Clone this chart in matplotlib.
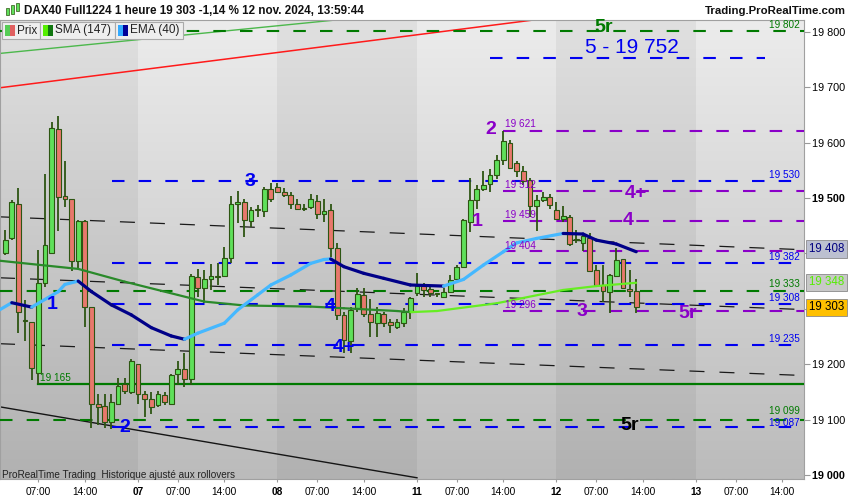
import numpy as np
import matplotlib
matplotlib.use('Agg')
import matplotlib.pyplot as plt
import matplotlib.transforms as mtransforms
from matplotlib.collections import LineCollection
from matplotlib.colors import LinearSegmentedColormap
from matplotlib.patches import Rectangle

plt.rcParams['font.family'] = ['Liberation Sans', 'DejaVu Sans']

# Bougies horaires DAX40 (barre 1 = 6 nov. 02:00 ... barre 96 = 12 nov. 13:00)
opens = [19400, 19427, 19490, 19280, 19276, 19185, 19347, 19400, 19624, 19504,
         19498, 19387, 19459, 19303, 19129, 19125, 19095, 19129, 19164, 19150,
         19200, 19146, 19138, 19126, 19144, 19129, 19182, 19192, 19174, 19358,
         19337, 19353, 19358, 19360, 19392, 19490, 19492, 19459, 19478, 19476,
         19517, 19519, 19511, 19505, 19489, 19482, 19483, 19495, 19471, 19478,
         19409, 19289, 19241, 19301, 19325, 19291, 19274, 19291, 19276, 19268,
         19274, 19295, 19328, 19341, 19335, 19327, 19322, 19331, 19353, 19376,
         19457, 19496, 19517, 19525, 19542, 19569, 19600, 19564, 19549, 19532,
         19486, 19496, 19501, 19478, 19462, 19466, 19425, 19418, 19427, 19370,
         19343, 19331, 19359, 19389, 19335, 19333]
highs = [19442, 19497, 19518, 19316, 19277, 19406, 19543, 19638, 19648, 19566,
         19499, 19460, 19461, 19304, 19147, 19147, 19147, 19176, 19175, 19209,
         19201, 19152, 19149, 19152, 19149, 19182, 19205, 19221, 19362, 19371,
         19370, 19380, 19382, 19411, 19504, 19513, 19498, 19484, 19487, 19520,
         19527, 19527, 19518, 19511, 19498, 19490, 19507, 19505, 19498, 19490,
         19418, 19295, 19304, 19337, 19337, 19317, 19304, 19295, 19281, 19281,
         19301, 19321, 19364, 19347, 19343, 19329, 19337, 19361, 19379, 19463,
         19537, 19524, 19548, 19552, 19578, 19621, 19604, 19566, 19557, 19537,
         19505, 19511, 19508, 19492, 19486, 19469, 19442, 19436, 19436, 19379,
         19379, 19362, 19409, 19390, 19370, 19353]
lows = [19398, 19425, 19256, 19241, 19172, 19165, 19340, 19399, 19441, 19483,
        19369, 19371, 19268, 19084, 19090, 19085, 19083, 19126, 19147, 19147,
        19129, 19105, 19110, 19123, 19126, 19128, 19162, 19158, 19162, 19322,
        19310, 19334, 19343, 19359, 19383, 19454, 19430, 19448, 19466, 19466,
        19493, 19510, 19501, 19481, 19478, 19477, 19481, 19463, 19457, 19394,
        19280, 19220, 19220, 19295, 19286, 19250, 19250, 19267, 19257, 19263,
        19268, 19281, 19323, 19321, 19321, 19321, 19321, 19329, 19352, 19375,
        19439, 19480, 19513, 19511, 19534, 19560, 19552, 19538, 19523, 19466,
        19441, 19493, 19480, 19460, 19457, 19413, 19419, 19405, 19367, 19340,
        19313, 19293, 19358, 19336, 19322, 19292]
closes = [19424, 19493, 19295, 19278, 19193, 19346, 19416, 19626, 19501, 19498,
          19387, 19459, 19303, 19129, 19122, 19096, 19131, 19161, 19152, 19205,
          19146, 19138, 19123, 19147, 19132, 19180, 19191, 19174, 19360, 19337,
          19353, 19359, 19360, 19391, 19490, 19492, 19460, 19478, 19480, 19516,
          19499, 19511, 19505, 19489, 19480, 19481, 19498, 19471, 19477, 19409,
          19289, 19244, 19298, 19326, 19291, 19277, 19292, 19275, 19270, 19276,
          19295, 19319, 19341, 19334, 19328, 19327, 19331, 19352, 19376, 19460,
          19496, 19516, 19524, 19542, 19569, 19602, 19554, 19549, 19530, 19486,
          19496, 19501, 19487, 19462, 19468, 19417, 19424, 19431, 19369, 19343,
          19333, 19361, 19388, 19337, 19333, 19303]

# Moyennes mobiles
sma_x = [0, 12, 19, 27, 31, 37, 47, 52, 60, 62, 66, 75, 85, 90, 96]
sma_y = [19387, 19372, 19349, 19325, 19313, 19306, 19304, 19301, 19296, 19294,
         19296, 19310, 19334, 19341, 19347]
ema_x = [0, 2, 5, 9, 10, 12, 14, 17, 20, 23, 26, 28, 30, 34, 36, 39, 41, 44, 47,
         49, 50, 52, 55, 58, 62, 67, 70, 73, 76, 78, 81, 85, 88, 90, 93, 96]
ema_y = [19297, 19311, 19303, 19331, 19344, 19350, 19331, 19307, 19289, 19266,
         19251, 19245, 19256, 19274, 19298, 19325, 19343, 19361, 19382, 19389,
         19390, 19376, 19364, 19355, 19343, 19341, 19353, 19379, 19403, 19419,
         19427, 19436, 19435, 19424, 19417, 19403]

# Niveaux
blue_levels = [19530, 19382, 19308, 19235, 19087]
blue_target = 19752
green_levels = [19802, 19333, 19099]
purple_levels = [19621, 19512, 19459, 19404, 19296]
support_level = 19165

# Droites tracées
chan_x = [0.23, 120.35]
chan_upper = [19466, 19407]
chan_mid = [19356, 19299]
chan_low = [19237, 19180]
sup_x = [0.23, 63]
sup_y = [19123, 18995]
red_x = [0.23, 82.3]
red_y = [19699, 19824]
lg_x = [0.23, 50.5]
lg_y = [19761, 19821]

day_labels = ['07', '08', '11', '12', '13']
last_price, last_sma, last_ema = 19303, 19348, 19408

# ---------------------------------------------------------------
BARS_PER_DAY = 21
xmin, xmax = 0.226, 121.26
ymin, ymax = 18992.8, 19821.3
BLUE, PURPLE, GREEN = '#0000f0', '#8a00c8', '#007a00'
WICK = '#2d5512'

fig = plt.figure(figsize=(8.5, 5), dpi=100)
fig.patch.set_facecolor('white')
ax = fig.add_axes([0, 21 / 500, 804 / 850, 459 / 500])
ax.set_xlim(xmin, xmax)
ax.set_ylim(ymin, ymax)

# fond dégradé + bandes de jours
cmap = LinearSegmentedColormap.from_list('bg', ['#ececec', '#bbbbbb'])
ax.imshow(np.linspace(0, 1, 256).reshape(-1, 1), cmap=cmap, aspect='auto',
          extent=[xmin, xmax, ymin, ymax], origin='upper', zorder=0)
for d0 in (0, 2, 4):
    ax.axvspan(max(d0 * BARS_PER_DAY, xmin), (d0 + 1) * BARS_PER_DAY,
               color='black', alpha=0.05, lw=0, zorder=0.5)

# droites
ax.plot(red_x, red_y, color='#ff1a1a', lw=1.1, zorder=2)
ax.plot(lg_x, lg_y, color='#4cb84c', lw=1.0, zorder=2)
ax.plot(sup_x, sup_y, color='#151515', lw=1.0, zorder=2)
for cy in (chan_upper, chan_mid, chan_low):
    ax.plot(chan_x, cy, color='#1a1a1a', lw=0.9, ls=(0, (12, 12)), zorder=2)

# niveaux horizontaux
dash = (0, (6, 6.8))
x_blue0 = 17.1
for lv in blue_levels:
    ax.plot([x_blue0, xmax], [lv, lv], color=BLUE, lw=1.5, ls=dash, zorder=3)
ax.plot([74, 115.4], [blue_target, blue_target], color=BLUE, lw=1.5, ls=dash, zorder=3)
for lv in green_levels:
    ax.plot([xmin, xmax], [lv, lv], color=GREEN, lw=1.5, ls=dash, zorder=3)
for lv in purple_levels:
    ax.plot([76, xmax], [lv, lv], color=PURPLE, lw=1.5, ls=dash, zorder=3)
ax.plot([6.0, xmax], [support_level, support_level], color=GREEN, lw=1.6, zorder=3)

# bougies
idx = np.arange(1, len(closes) + 1)
o, h, l, c = map(np.array, (opens, highs, lows, closes))
ax.vlines(idx, l, h, color=WICK, lw=1.3, zorder=4)
up = c >= o
body = np.maximum(np.abs(c - o), 1.2)
ax.bar(idx[up], body[up], bottom=np.minimum(o, c)[up], width=0.72,
       color='#5fe05a', edgecolor=WICK, linewidth=0.8, zorder=5)
ax.bar(idx[~up], body[~up], bottom=np.minimum(o, c)[~up], width=0.72,
       color='#e8786c', edgecolor=WICK, linewidth=0.8, zorder=5)


def ma_line(xs, ys, c_up, c_dn, lw):
    pts = np.column_stack([xs, ys])
    segs = np.stack([pts[:-1], pts[1:]], axis=1)
    cols = [c_up if b >= a else c_dn for a, b in zip(ys[:-1], ys[1:])]
    ax.add_collection(LineCollection(segs, colors=cols, linewidths=lw,
                                     capstyle='round', joinstyle='round', zorder=6))


ma_line(sma_x, sma_y, '#66ee22', '#2a8a2a', 1.6)
ma_line(ema_x, ema_y, '#45b8ff', '#000088', 2.3)

# annotations en gras
big = [
    ('5r', 91.1, 19807, GREEN), ('3', 37.9, 19529, BLUE), ('1', 8.1, 19307, BLUE),
    ('2', 19.0, 19086, BLUE), ('4', 49.9, 19305, BLUE), ('4+', 52.0, 19231, BLUE),
    ('2', 74.1, 19623, PURPLE), ('4+', 96.0, 19509, PURPLE), ('4', 94.8, 19459, PURPLE),
    ('1', 72.0, 19457, PURPLE), ('3', 87.9, 19295, PURPLE), ('5r', 103.8, 19292, PURPLE),
    ('5r', 95.0, 19090, 'black'),
]
for t, x, y, col in big:
    ax.text(x, y, t, color=col, fontsize=14, fontweight='bold',
            ha='center', va='center', zorder=8)
ax.text(95.4, 19772, '5 - 19 752', color=BLUE, fontsize=15, ha='center',
        va='center', zorder=8)

# petites étiquettes de niveaux
right_lbl = [('19 802', 19812, GREEN), ('19 530', 19541, BLUE), ('19 382', 19394, BLUE),
             ('19 333', 19345, GREEN), ('19 308', 19320, BLUE), ('19 235', 19245, BLUE),
             ('19 099', 19115, GREEN), ('19 087', 19094, BLUE)]
for t, y, col in right_lbl:
    ax.text(120.6, y, t, color=col, fontsize=7.2, ha='right', va='center', zorder=8)
for lv, y in zip(purple_levels, [19634, 19524, 19469, 19414, 19307]):
    ax.text(76.2, y, f'{lv // 1000} {lv % 1000:03d}', color=PURPLE, fontsize=7.2,
            ha='left', va='center', zorder=8)
ax.text(6.3, 19175, '19 165', color=GREEN, fontsize=7.2, ha='left', va='center', zorder=8)
ax.text(0.6, 19000, 'ProRealTime Trading  Historique ajusté aux rollovers',
        color='#222222', fontsize=7.2, ha='left', va='center', zorder=8)

# axe des prix à droite (19 300 / 19 400 masqués par les étiquettes de valeur)
ax.yaxis.tick_right()
yt = list(range(19000, 19801, 100))
ax.set_yticks(yt)
ax.set_yticklabels(['' if v in (19300, 19400) else f'{v // 1000} {v % 1000:03d}'
                    for v in yt])
for v, lab in zip(yt, ax.get_yticklabels()):
    if v in (19000, 19500):
        lab.set_fontweight('bold')
        lab.set_fontsize(8.3)
ax.tick_params(axis='y', length=4, color='#999999', labelsize=7.8, pad=2,
               labelcolor='black')
trans = mtransforms.blended_transform_factory(ax.transAxes, ax.transData)
for val, fc, tc in [(last_ema, '#bcc0d0', '#000080'), (last_sma, '#c8c8c8', '#55ee00'),
                    (last_price, '#ffc000', 'black')]:
    ax.text(1.006, val, f'{val // 1000} {val % 1000:03d}', transform=trans,
            fontsize=8.3, color=tc, ha='left', va='center', zorder=10, clip_on=False,
            bbox=dict(boxstyle='square,pad=0.22', fc=fc, ec='#8a8a8a', lw=0.6))

# axe du temps
pos, labs, bold = [], [], []
for d in range(6):
    if d > 0:
        pos.append(d * BARS_PER_DAY)
        labs.append(day_labels[d - 1])
        bold.append(True)
    for off, s in ((6, '07:00'), (13, '14:00')):
        pos.append(d * BARS_PER_DAY + off)
        labs.append(s)
        bold.append(False)
ax.set_xticks(pos)
ax.set_xticklabels(labs)
for b, lab in zip(bold, ax.get_xticklabels()):
    if b:
        lab.set_fontweight('bold')
        lab.set_fontsize(8.5)
ax.tick_params(axis='x', length=2, color='#999999', labelsize=7.3, pad=4)

for s in ax.spines.values():
    s.set_color('#a0a0a0')
    s.set_linewidth(0.8)

# barre de titre
fig.text(24 / 850, 1 - 11 / 500, 'DAX40 Full1224 1 heure 19 303 -1,14 % 12 nov. 2024, 13:59:44',
         fontsize=8.4, fontweight='bold', va='center', ha='left', color='#111111')
fig.text(846 / 850, 1 - 11 / 500, 'Trading.ProRealTime.com', fontsize=8.2,
         fontweight='bold', va='center', ha='right', color='#111111')
for k, (x0, y0, hh) in enumerate([(6, 8, 7), (11, 5, 9), (16, 3, 8)]):
    fig.add_artist(Rectangle((x0 / 850, 1 - (y0 + hh) / 500), 3 / 850, hh / 500,
                             transform=fig.transFigure, fc='#5fe05a', ec=WICK, lw=0.5))

# légende
boxes = [(2, 40, 'Prix', '#55cc55', '#e06060'),
         (40, 115, 'SMA (147)', '#55ee00', '#117711'),
         (115, 183, 'EMA (40)', '#33aaff', '#000099')]
for x0, x1, txt, c1, c2 in boxes:
    fig.add_artist(Rectangle((x0 / 850, 1 - 39 / 500), (x1 - x0) / 850, 17 / 500,
                             transform=fig.transFigure, fc='#eeeeee', ec='#aaaaaa',
                             lw=0.8, zorder=20))
    fig.add_artist(Rectangle(((x0 + 3) / 850, 1 - 36 / 500), 5 / 850, 11 / 500,
                             transform=fig.transFigure, fc=c1, lw=0, zorder=21))
    fig.add_artist(Rectangle(((x0 + 8) / 850, 1 - 36 / 500), 5 / 850, 11 / 500,
                             transform=fig.transFigure, fc=c2, lw=0, zorder=21))
    fig.text((x0 + 15) / 850, 1 - 30.5 / 500, txt, fontsize=8.5, va='center',
             ha='left', color='#222222', zorder=22)

plt.savefig('out.png', dpi=100, facecolor='white')
plt.close()
